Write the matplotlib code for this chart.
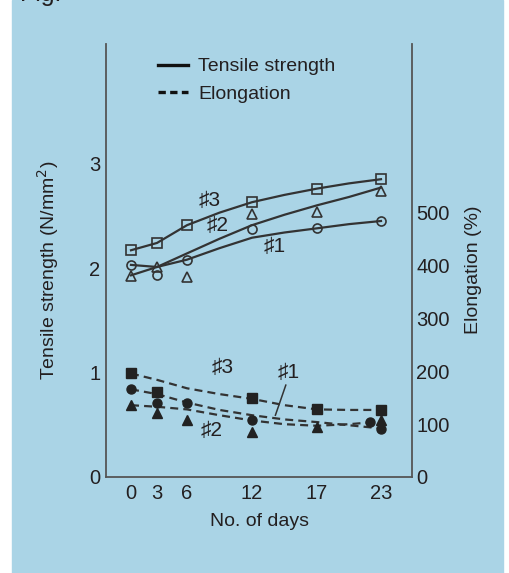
import matplotlib.pyplot as plt
import numpy as np
from matplotlib.lines import Line2D

plt.rcParams['font.family'] = ['Liberation Sans', 'DejaVu Sans']

# days at which samples were measured
days = [0, 3, 6, 12, 17, 23]
day_ticks = [0, 3, 6, 12, 17, 23]

# tensile strength markers (N/mm2)
ts_1 = [2.03, 1.93, 2.08, 2.37, 2.38, 2.45]
ts_2 = [1.92, 2.01, 1.91, 2.52, 2.54, 2.74]
ts_3 = [2.17, 2.24, 2.41, 2.63, 2.76, 2.85]

# hand drawn trend curves for tensile strength
trend_days = [0, 3, 6, 9, 12, 14.5, 17, 20, 23]
ts_1_curve = [2.03, 2.01, 2.08, 2.19, 2.29, 2.34, 2.38, 2.42, 2.45]
ts_2_curve = [1.93, 2.01, 2.14, 2.28, 2.41, 2.51, 2.60, 2.68, 2.77]
ts_3_curve = [2.17, 2.24, 2.41, 2.53, 2.63, 2.70, 2.76, 2.81, 2.85]

# elongation markers (%)
el_1_days = [0, 3, 6, 12, 22, 23]
el_1 = [167, 140, 140, 108, 104, 91]
el_2 = [136, 121, 108, 85, 95, 108]
el_3_days = [0, 3, 12, 17, 23]
el_3 = [197, 161, 150, 129, 127]

# hand drawn trend curves for elongation
el_1_curve = [166, 157, 141, 127, 117, 109, 104, 98, 92]
el_2_curve = [136, 133, 128, 117, 107, 100, 97, 100, 105]
el_3_curve = [196, 184, 168, 157, 148, 136, 128, 127, 127]

BG = "#aad4e6"
INK = "#231f20"
LINE = "#333333"

# the day axis of the original is not evenly spaced
knot_days = [-2.9, 0, 3, 6, 12, 17, 23, 25.9]
knot_pos = [106, 131, 157, 187, 252, 317, 381, 412]


def fwd(d):
    return np.interp(d, knot_days, knot_pos)


def inv(p):
    return np.interp(p, knot_pos, knot_days)


fig = plt.figure(figsize=(5.09, 5.73), dpi=100)
fig.patches.append(plt.Rectangle((12 / 509, 0), 491 / 509, 1,
                                 transform=fig.transFigure,
                                 color=BG, zorder=-10))
fig.text(20 / 509, 1 - 1 / 573, "Fig.", fontsize=18, color=INK,
         va="baseline", ha="left")

ax = fig.add_axes([106 / 509, 96 / 573, 306 / 509, 433 / 573])
ax.set_xscale("function", functions=(fwd, inv))
ax.patch.set_visible(False)
ax2 = ax.twinx()
ax2.patch.set_visible(False)

#Tensile strength (solid curves, open markers)
mk = dict(mfc="none", mec=LINE, mew=1.2, linestyle="none")
ax.plot(trend_days, ts_1_curve, color=LINE, lw=1.6)
ax.plot(trend_days, ts_2_curve, color=LINE, lw=1.6)
ax.plot(trend_days, ts_3_curve, color=LINE, lw=1.6)
ax.plot(days, ts_1, marker="o", ms=6.5, **mk)
ax.plot(days, ts_2, marker="^", ms=7, **mk)
ax.plot(days, ts_3, marker="s", ms=7, **mk)

#Elongation (dashed curves, filled markers)
dash = dict(color=LINE, lw=1.6, dashes=(3.6, 2.3))
ax2.plot(trend_days, el_1_curve, **dash)
ax2.plot(trend_days, el_2_curve, **dash)
ax2.plot(trend_days, el_3_curve, **dash)
fk = dict(color="#222222", linestyle="none")
ax2.plot(el_1_days, el_1, marker="o", ms=6.5, **fk)
ax2.plot(days, el_2, marker="^", ms=7, **fk)
ax2.plot(el_3_days, el_3, marker="s", ms=7, **fk)

#Curve labels
lab = dict(fontsize=15, color=INK, ha="center", va="center")
ax.text(8.1, 2.65, "♯3", **lab)
ax.text(8.8, 2.41, "♯2", **lab)
ax.text(13.7, 2.21, "♯1", **lab)
ax2.text(9.3, 208, "♯3", **lab)
ax2.text(14.8, 197, "♯1", **lab)
ax2.text(8.3, 89, "♯2", **lab)
ax2.plot([14.6, 13.8], [174, 117], color=LINE, lw=1.1)

#Axes limits and ticks
ax.set_xlim(-2.9, 25.9)
ax.set_ylim(0, 4.144)
ax2.set_ylim(0, 820)
ax.set_xticks(day_ticks)
ax.set_xticklabels([str(d) for d in day_ticks])
ax.set_yticks([0, 1, 2, 3])
ax2.set_yticks([0, 100, 200, 300, 400, 500])
ax.tick_params(axis="x", length=0, pad=5, labelsize=14.5, labelcolor=INK)
ax.tick_params(axis="y", length=0, pad=4, labelsize=14.5, labelcolor=INK)
ax2.tick_params(axis="y", length=0, pad=3, labelsize=14.5, labelcolor=INK)
ax.minorticks_off()

for a in (ax, ax2):
    a.spines["top"].set_visible(False)
    for s in a.spines.values():
        s.set_color("#555555")
        s.set_linewidth(1.3)
ax.spines["right"].set_visible(False)
ax2.spines["left"].set_visible(False)
ax2.spines["bottom"].set_visible(False)

#Axis titles
fig.text(48 / 509, 1 - 270 / 573, "Tensile strength (N/mm$^2$)",
         rotation=90, fontsize=14, color=INK, ha="center", va="center")
fig.text(473 / 509, 1 - 270 / 573, "Elongation (%)",
         rotation=90, fontsize=14, color=INK, ha="center", va="center")
fig.text(260 / 509, 1 - 522 / 573, "No. of days",
         fontsize=14, color=INK, ha="center", va="center")

#Legend
handles = [
    Line2D([], [], color="#111111", lw=2.4),
    Line2D([], [], color="#111111", lw=2.4, dashes=(2.2, 1.3)),
]
ax2.legend(handles, ["Tensile strength", "Elongation"],
           loc="upper left", bbox_to_anchor=(0.17, 0.968),
           frameon=False, fontsize=14, handlelength=1.55,
           handletextpad=0.5, labelspacing=0.5,
           borderpad=0, borderaxespad=0, labelcolor=INK)

plt.savefig("out.png", dpi=100)
